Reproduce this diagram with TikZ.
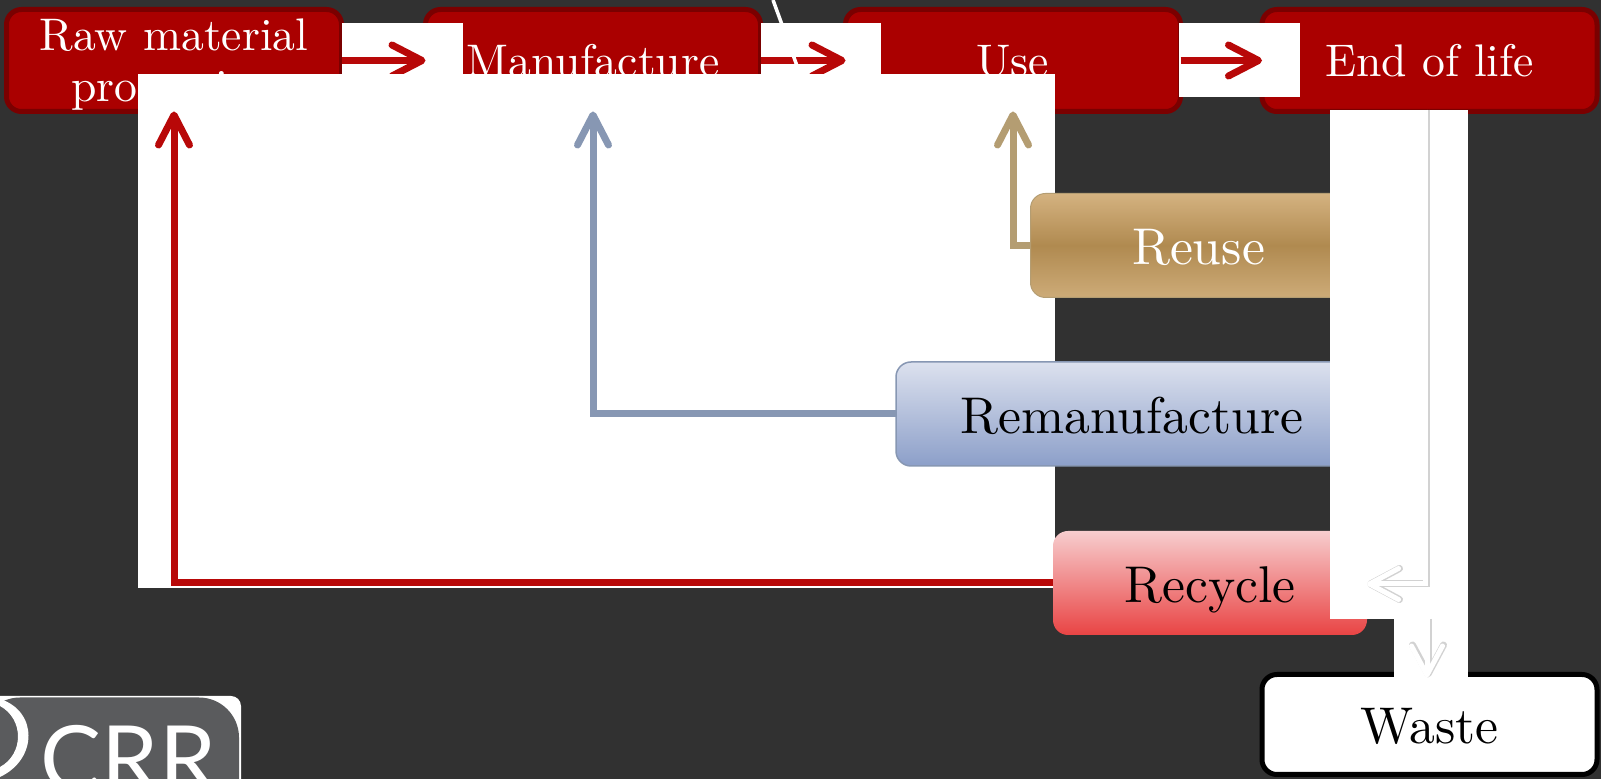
\documentclass[tikz,border=0pt]{standalone}
\usepackage{fontspec}
\setmainfont[Extension=.otf]{lmroman10-regular}
\newfontfamily\logofont{Lato}
\usetikzlibrary{arrows.meta}
\definecolor{slate}{HTML}{313131}
\definecolor{boxred}{HTML}{AA0000}
\definecolor{darkred}{HTML}{7A0000}
\definecolor{arrowred}{HTML}{B80808}
\definecolor{arrowblue}{HTML}{8797B3}
\definecolor{arrowtan}{HTML}{B49D72}
\definecolor{logogrey}{HTML}{5A5B5D}
\definecolor{tantop}{HTML}{D4B280}
\definecolor{tanmid}{HTML}{B08A50}
\definecolor{tanbottom}{HTML}{CDAB78}
\definecolor{bluetop}{HTML}{DCE1EE}
\definecolor{bluebottom}{HTML}{8C9FC9}
\definecolor{recycletop}{HTML}{F7CDCE}
\definecolor{recyclebottom}{HTML}{E94444}
\begin{document}
\begin{tikzpicture}[
            basenode/.style={
                rounded corners=0.15cm, outer sep=0pt, align=center
            },
            stagenode/.style={
                basenode, draw=darkred, line width=0.05cm, fill=boxred, text=white, inner sep=0pt,
                minimum width=3.35cm, minimum height=1.02cm,
                font=\fontsize{13}{14.5}\selectfont
            },
            oneline/.style={
                text height=9.35pt, text depth=0pt
            },
            loopnode/.style={
                basenode, minimum height=1.04cm, text height=11pt, text depth=0pt,
                font=\fontsize{14.7}{16}\selectfont
            },
            reusenode/.style={
                loopnode, draw=arrowtan, line width=0.01cm, text=white,
                top color=tantop, bottom color=tanbottom, middle color=tanmid
            },
            remannode/.style={
                loopnode, draw=arrowblue, line width=0.015cm,
                top color=bluetop, bottom color=bluebottom
            },
            recyclenode/.style={
                loopnode, top color=recycletop, bottom color=recyclebottom
            },
            wastenode/.style={
                basenode, draw=black, line width=0.05cm, fill=white,
                minimum width=3.35cm, minimum height=1.00cm,
                text height=11pt, text depth=0pt,
                font=\fontsize{14.7}{16}\selectfont
            },
            flow/.style={
                line width=0.07cm,
                -{Straight Barb[round, length=0.30cm, width=0.31cm]}
            },
            faintedge/.style={
                line width=0.07cm, gray!35,
                -{Straight Barb[round, length=0.29cm, width=0.31cm]}
            },
            faintfill/.style={
                line width=0.05cm, white,
                -{Straight Barb[round, length=0.29cm, width=0.31cm]}
            }
        ]
        \useasboundingbox (0, 0) rectangle (16.01, 7.79);
        \fill[slate] (0, 0) rectangle (16.01, 7.79);

        % nodes
        \node[stagenode] (raw) at (1.74, 7.185) {\rule{0pt}{11.6pt}Raw material\\processing};
        \node[stagenode, oneline] (manufacture) at (5.93, 7.185) {Manufacture};
        \node[stagenode, oneline] (use) at (10.13, 7.185) {Use};
        \node[stagenode, oneline] (eol) at (14.295, 7.185) {End of life};

        % white patches
        \fill[white] (3.42, 6.82) rectangle (4.63, 7.56);
        \fill[white] (7.61, 6.82) rectangle (8.81, 7.56);
        \fill[white] (11.79, 6.82) rectangle (13.00, 7.56);

        \draw[flow, arrowred] (raw) -- (manufacture);
        \draw[flow, arrowred] (manufacture) -- (use);
        \draw[flow, arrowred] (use) -- (eol);

        \coordinate (slashtop) at (7.73, 7.79);
        \coordinate (slashend) at (8.00, 7.05);
        \draw[white, line width=0.035cm] (slashtop) -- (slashend);

        \fill[white] (1.38, 1.91) rectangle (10.55, 7.05);

        \node[reusenode, minimum width=3.36cm] (reuse) at (11.985, 5.335) {Reuse};
        \node[remannode, minimum width=4.72cm] (reman) at (11.32, 3.65) {Remanufacture};
        \node[recyclenode, minimum width=3.14cm] (recycle) at (12.10, 1.96) {Recycle};
        \node[wastenode] (waste) at (14.295, 0.545) {Waste};

        \draw[flow, arrowtan] (reuse) -| (use);
        \draw[flow, arrowblue] (reman) -| (manufacture);
        \draw[flow, arrowred] (recycle) -| (raw);

        % end of life panel
        \fill[white] (13.30, 1.60) rectangle (14.68, 6.69);
        \fill[white] (13.94, 1.00) rectangle (14.68, 1.60);

        \coordinate (start) at (14.25, 6.69);
        \coordinate (turn) at (14.25, 1.95);
        \draw[faintedge] ([xshift=0.015cm]start) -- ([xshift=0.015cm]turn) -- (recycle.east |- turn);
        \draw[faintfill] (start) -- (turn) -- (recycle.east |- turn);
        \coordinate (drop) at (14.27, 1.60);
        \draw[faintedge, shorten >=-0.03cm] ([xshift=0.01cm]drop) -- ([xshift=0.01cm]drop |- waste.north);
        \draw[faintfill, shorten >=-0.03cm] (drop) -- (drop |- waste.north);

        % logo
        \fill[white, rounded corners=0.1cm] (-0.2, -0.4) rectangle (2.41, 0.83);
        \fill[logogrey, rounded corners=0.4cm] (-0.2, -0.4) rectangle (2.39, 0.815);
        \fill[white] (0, 0.80) .. controls (0.38, 0.68) and (0.38, 0.20) .. (0, 0.02)
            -- (0, 0.12) .. controls (0.24, 0.25) and (0.24, 0.60) .. (0, 0.73) -- cycle;
        \node[text=white, font=\logofont\fontsize{26}{26}\selectfont, anchor=base west, inner sep=0pt] (crr) at (0.40, -0.13) {CRR};
        \end{tikzpicture}
\end{document}
